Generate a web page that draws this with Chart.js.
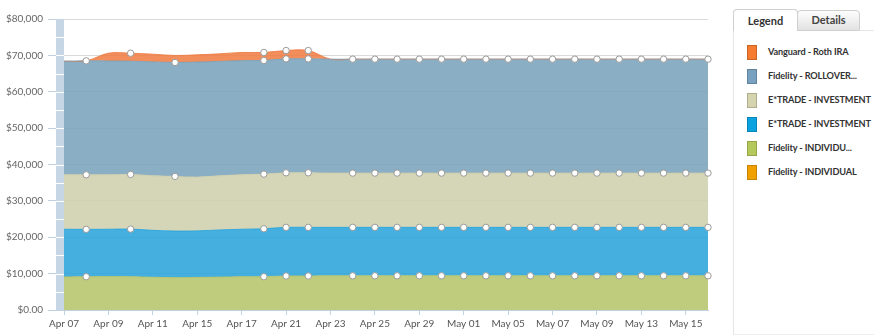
<!DOCTYPE html>
<html>
<head>
<meta charset="utf-8">
<script src="https://cdn.jsdelivr.net/npm/chart.js@4/dist/chart.umd.min.js"></script>
<style>
  html, body { margin: 0; padding: 0; background: #fff; }
  body { width: 874px; height: 336px; position: relative; overflow: hidden; font-family: Lato, "Open Sans", sans-serif; }
  #chartBox { position: absolute; left: 0; top: 0; width: 722px; height: 336px; }
  #panel { position: absolute; left: 733px; top: 30px; width: 141px; height: 305px;
           border-left: 1px solid #e6e6e6; border-bottom: 1px solid #eee; box-sizing: border-box; }
  .tab { position: absolute; box-sizing: border-box; border: 1px solid #cfcfcf; border-radius: 4px 4px 0 0;
         font: bold 11px Lato, "Open Sans", sans-serif; color: #333; text-align: center; }
  #tabLegend { left: 733px; top: 9px; width: 65px; height: 22px; line-height: 21px; background: #fff; border-bottom: none; z-index: 2; }
  #tabDetails { left: 797px; top: 10px; width: 63px; height: 21px; line-height: 18px;
                background: linear-gradient(#fdfdfd, #e2e2e2); color: #444; }
  #topRule { position: absolute; left: 859px; top: 30px; width: 15px; height: 1px; background: #e6e6e6; }
  .item { position: absolute; left: 13px; height: 15px; }
  .sw { position: absolute; left: 0; top: 0; width: 10px; height: 15px; box-sizing: border-box; border: 1px solid rgba(0,0,0,0.18); }
  .lbl { position: absolute; left: 21px; top: 0; line-height: 15px; white-space: nowrap;
         font: bold 10.2px Lato, "Open Sans", sans-serif; color: #333; letter-spacing: -0.15px;
         transform: scaleX(0.9); transform-origin: left center; }
</style>
</head>
<body>
<div id="chartBox"><canvas id="c"></canvas></div>
<div id="tabLegend" class="tab">Legend</div>
<div id="tabDetails" class="tab">Details</div>
<div id="topRule"></div>
<div id="panel"></div>
<script>
// Trading days on the x axis
const categories = ['Apr 07','Apr 08','Apr 09','Apr 10','Apr 11','Apr 14','Apr 15','Apr 16','Apr 17','Apr 18',
  'Apr 21','Apr 22','Apr 23','Apr 24','Apr 25','Apr 28','Apr 29','Apr 30','May 01','May 02',
  'May 05','May 06','May 07','May 08','May 09','May 12','May 13','May 14','May 15','May 16'];

// Account balances (USD), stacked from the bottom up
const fidelityIndividual = [0,0,0,0,0,0,0,0,0,0, 0,0,0,0,0,0,0,0,0,0, 0,0,0,0,0,0,0,0,0,0];
const fidelityIndividu = [9100,9150,9200,9150,9000,8900,8950,9050,9150,9150,
  9350,9350,9400,9400,9400,9400,9400,9400,9400,9400, 9400,9400,9400,9400,9400,9400,9400,9400,9400,9400];
const etradeInvestmentB = [13100,13020,13000,13100,12900,12800,12800,12950,13050,13190,
  13370,13370,13320,13320,13320,13320,13320,13320,13320,13320, 13320,13320,13320,13320,13320,13320,13320,13320,13320,13320];
const etradeInvestmentA = [15000,15000,15000,15020,15000,15030,14790,14900,15000,15020,
  15000,15000,14920,14920,14920,14920,14920,14920,14920,14920, 14920,14920,14920,14920,14920,14920,14920,14920,14920,14920];
const fidelityRollover = [31200,31320,31250,31130,31300,31320,31610,31450,31350,31240,
  31320,31320,31320,31320,31320,31320,31320,31320,31320,31320, 31320,31320,31320,31320,31320,31320,31320,31320,31320,31320];
const vanguardRoth = [0,0,2150,2200,2130,1920,2000,2070,2250,2200,
  2300,2300,0,0,0,0,0,0,0,0, 0,0,0,0,0,0,0,0,0,0];

// Days that carry a point marker, per account
const laterDays = [13,14,15,16,17,18,19,20,21,22,23,24,25,26,27,28,29];
const marksVanguard = [3,9,10,11];
const marksRollover = [1,5,9,10,11].concat(laterDays);
const marksEtradeA = [1,3,5,9,10,11].concat(laterDays);
const marksEtradeB = [1,3,9,10,11].concat(laterDays);
const marksIndividu = [1,9,10,11].concat(laterDays);
const marksIndividual = [];

const yTickLabels = ['$0.00','$10,000','$20,000','$30,000','$40,000','$50,000','$60,000','$70,000','$80,000'];

// Series in stacking order (bottom first)
const series = [
  { name: 'Fidelity - INDIVIDUAL',   data: fidelityIndividual, marks: marksIndividual, swatch: '#f0a000', fill: 'rgba(240,160,0,0.85)' },
  { name: 'Fidelity - INDIVIDU...',  data: fidelityIndividu,   marks: marksIndividu,   swatch: '#b5c95a', fill: 'rgba(180,194,102,0.85)' },
  { name: 'E*TRADE - INVESTMENT',    data: etradeInvestmentB,  marks: marksEtradeB,    swatch: '#0aa3e0', fill: 'rgba(36,162,219,0.85)' },
  { name: 'E*TRADE - INVESTMENT',    data: etradeInvestmentA,  marks: marksEtradeA,    swatch: '#d6d4ae', fill: 'rgba(206,206,170,0.85)' },
  { name: 'Fidelity - ROLLOVER...',  data: fidelityRollover,   marks: marksRollover,   swatch: '#78a0bf', fill: 'rgba(117,160,186,0.85)' },
  { name: 'Vanguard - Roth IRA',     data: vanguardRoth,       marks: marksVanguard,   swatch: '#f47b30', fill: 'rgba(238,122,64,0.85)' }
];

// Shaded strip beside the value axis, notched every 5,000
const axisStrip = {
  id: 'axisStrip',
  beforeDatasetsDraw(chart) {
    const { ctx, chartArea, scales } = chart;
    const y = scales.y;
    ctx.save();
    ctx.fillStyle = '#c7d6e4';
    ctx.fillRect(chartArea.left - 8, chartArea.top, 8, chartArea.bottom - chartArea.top);
    ctx.strokeStyle = '#ffffff';
    ctx.lineWidth = 1;
    for (let v = y.min + 5000; v < y.max; v += 5000) {
      const py = Math.round(y.getPixelForValue(v)) + 0.5;
      ctx.beginPath();
      ctx.moveTo(chartArea.left - 8, py);
      ctx.lineTo(chartArea.left, py);
      ctx.stroke();
    }
    ctx.restore();
  }
};

const datasets = series.map((s, i) => ({
  label: s.name,
  data: s.data,
  fill: i === 0 ? 'origin' : '-1',
  backgroundColor: s.fill,
  borderColor: s.fill,
  borderWidth: i === 0 ? 0 : 1,
  tension: 0.35,
  pointRadius: s.data.map((_, k) => s.marks.includes(k) ? 3.2 : 0),
  pointHoverRadius: 0,
  pointBackgroundColor: '#ffffff',
  pointBorderColor: '#9a9a9a',
  pointBorderWidth: 1
}));

new Chart(document.getElementById('c'), {
  type: 'line',
  data: { labels: categories, datasets },
  plugins: [axisStrip],
  options: {
    responsive: true,
    maintainAspectRatio: false,
    animation: false,
    events: [],
    layout: { padding: { top: 19, right: 14, bottom: 0, left: 0 } },
    plugins: {
      legend: { display: false },
      tooltip: { enabled: false },
      filler: { drawTime: 'beforeDatasetsDraw' }
    },
    scales: {
      x: {
        offset: false,
        grid: { drawOnChartArea: false, tickLength: 5, tickColor: '#c2d1e0' },
        border: { color: '#c2d1e0' },
        ticks: {
          autoSkip: false, maxRotation: 0, padding: 3,
          color: '#555', font: { family: 'Lato', size: 10 },
          callback: (v, i) => (i % 2 === 0 ? categories[i] : null)
        },
        afterFit: (scale) => { scale.height = 26; }
      },
      y: {
        stacked: true,
        min: 0, max: 80000,
        grid: { color: '#dadada', tickLength: 16, tickColor: '#c2d1e0' },
        border: { display: false },
        ticks: {
          stepSize: 10000, padding: 5,
          color: '#666', font: { family: 'Lato', size: 10 },
          callback: (v, i) => yTickLabels[i]
        },
        afterFit: (scale) => { scale.width = 64; }
      }
    }
  }
});

// Side legend, top series first
const panel = document.getElementById('panel');
series.slice().reverse().forEach((s, i) => {
  const row = document.createElement('div');
  row.className = 'item';
  row.style.top = (15 + i * 24) + 'px';
  row.innerHTML = '<div class="sw"></div><div class="lbl"></div>';
  row.firstChild.style.background = s.swatch;
  row.lastChild.textContent = s.name;
  panel.appendChild(row);
});
</script>
</body>
</html>
